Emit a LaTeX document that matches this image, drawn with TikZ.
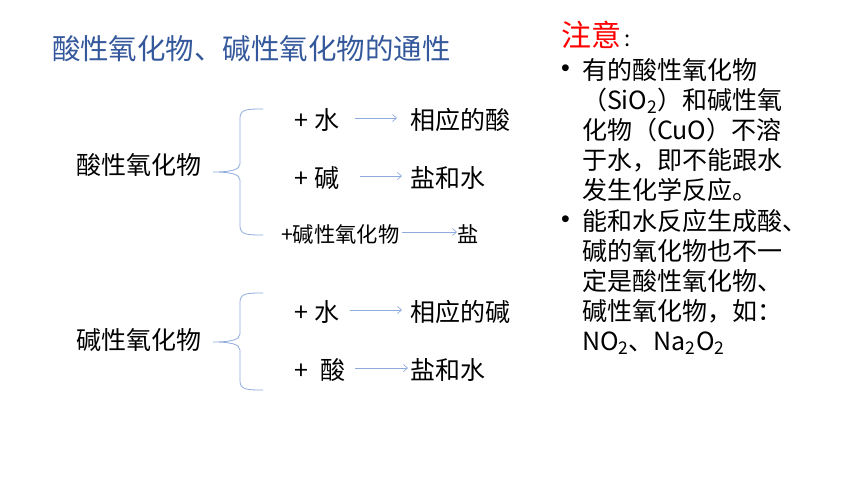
\documentclass[tikz,border=0pt]{standalone}
\usepackage{fontspec}
\setmainfont{Noto Sans CJK SC}
\newfontfamily\bulletfont{Liberation Sans}
\usetikzlibrary{arrows.meta,positioning}
\definecolor{titlecolor}{RGB}{52,88,155}
\definecolor{linkcolor}{RGB}{143,170,220}
\definecolor{notecolor}{RGB}{255,0,0}

\begin{document}
\begin{tikzpicture}[
    x=1pt, y=-1pt,
    every node/.style={inner sep=0pt, outer sep=0pt},
    title/.style={anchor=west, font=\fontsize{28.5}{34}\selectfont, text=titlecolor},
    item/.style={anchor=west, font=\fontsize{25}{30}\selectfont},
    small/.style={anchor=west, font=\fontsize{21.3}{26}\selectfont},
    bullet/.style={anchor=west, font=\bulletfont\fontsize{25}{30}\selectfont},
    note/.style={anchor=north west, align=left, font=\fontsize{25}{30}\selectfont},
    brace/.style={draw=linkcolor, line width=0.8pt},
    arrow/.style={-{Straight Barb[length=4pt,width=7pt]}, draw=linkcolor, line width=0.7pt}
]
\useasboundingbox (0,0) rectangle (860,484);

% Title
\node[title] (title) at (52,49) {酸性氧化物、碱性氧化物的通性};

% Acidic oxides
\node[item] (acid) at (76,165) {酸性氧化物};
\coordinate (acidtip) at (213,172);
\draw[brace] (263,109) .. controls (248,109) and (240,109) .. (240,118) -- (240,164)
    .. controls (240,170) and (230,172) .. (acidtip)
    .. controls (230,172) and (240,174) .. (240,180) -- (240,226)
    .. controls (240,235) and (248,235) .. (263,235);
\node[item] (acidw) at (294,120) {+\hspace{7pt}水};
\node[item] (acidwres) at (410,120) {相应的酸};
\node[item] (acidb) at (294,178) {+\hspace{7pt}碱};
\node[item] (acidbres) at (410,178) {盐和水};
\node[small] (acido) at (281,234) {+碱性氧化物};
\node[small] (acidores) at (457,234) {盐};

% Basic oxides
\node[item] (base) at (76,340) {碱性氧化物};
\coordinate (basetip) at (213,342);
\draw[brace] (263,293) .. controls (248,293) and (240,293) .. (240,302) -- (240,334)
    .. controls (240,340) and (230,342) .. (basetip)
    .. controls (230,342) and (240,344) .. (240,350) -- (240,381)
    .. controls (240,390) and (248,390) .. (263,390);
\node[item] (basew) at (294,312) {+\hspace{7pt}水};
\node[item] (basewres) at (410,312) {相应的碱};
\node[item] (basea) at (294,370) {+\hspace{13pt}酸};
\node[item] (basearess) at (410,370) {盐和水};

% Arrows
\foreach \source/\dest/\gapa/\gapb in {acidw/acidwres/15/13, acidb/acidbres/20/8, acido/acidores/3/0, basew/basewres/10/8, basea/basearess/9/2} {
    \draw[arrow, shorten <={\gapa pt}, shorten >={\gapb pt}] ([yshift=2pt]\source.east) -- ([yshift=2pt]\dest.west);
}

% Notes
\node[anchor=west, font=\fontsize{30}{30}\selectfont, text=notecolor] (notice) at (561,35) {注意};
\node[anchor=base west, font=\fontsize{22}{30}\selectfont] (colon) at ([xshift=3pt]notice.base east) {:};
\node[bullet] (dot1) at (561,71) {•};
\node[note] (note1) at (582,58) {有的酸性氧化物\\（SiO\textsubscript{2}）和碱性氧\\化物（CuO）不溶\\于水，即不能跟水\\发生化学反应。};
\node[bullet] (dot2) at (561,222) {•};
\node[note] (note2) at (582,209) {能和水反应生成酸、\\碱的氧化物也不一\\定是酸性氧化物、\\碱性氧化物，如：\\NO\textsubscript{2}、Na\textsubscript{2}O\textsubscript{2}};

\end{tikzpicture}
\end{document}
